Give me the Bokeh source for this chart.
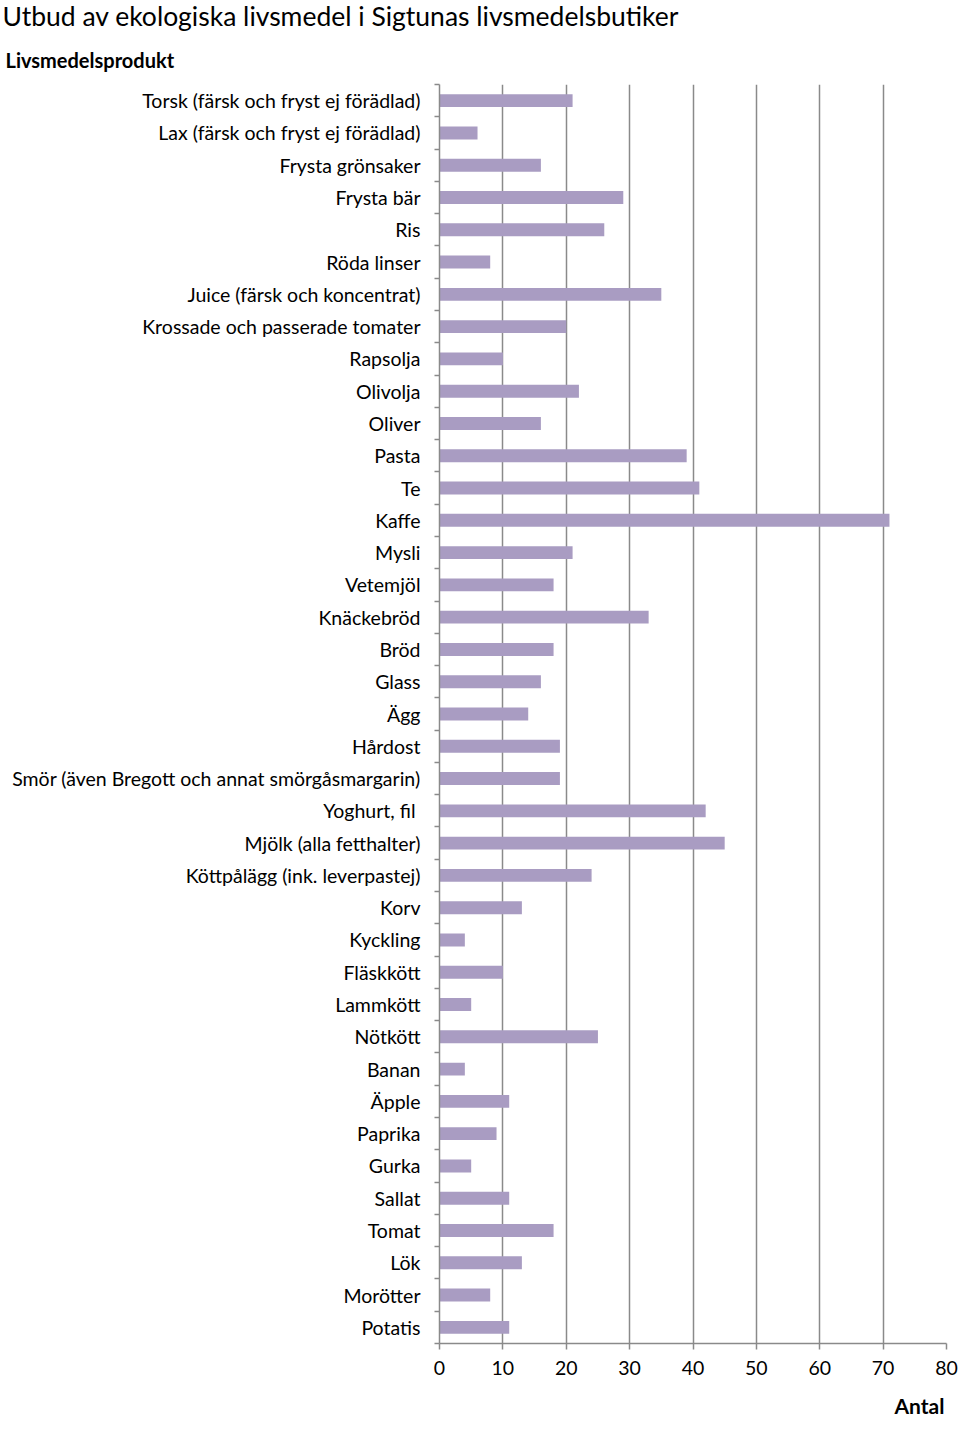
from bokeh.plotting import figure
from bokeh.models import FixedTicker, Range1d, Title
from bokeh.embed import file_html
from bokeh.resources import INLINE

title = "Utbud av ekologiska livsmedel i Sigtunas livsmedelsbutiker"
y_title = "Livsmedelsprodukt"
x_title = "Antal"

products = [
    "Torsk (färsk och fryst ej förädlad)", "Lax (färsk och fryst ej förädlad)", "Frysta grönsaker",
    "Frysta bär", "Ris", "Röda linser", "Juice (färsk och koncentrat)", "Krossade och passerade tomater",
    "Rapsolja", "Olivolja", "Oliver", "Pasta", "Te", "Kaffe", "Mysli", "Vetemjöl", "Knäckebröd",
    "Bröd", "Glass", "Ägg", "Hårdost", "Smör (även Bregott och annat smörgåsmargarin)", "Yoghurt, fil ",
    "Mjölk (alla fetthalter)", "Köttpålägg (ink. leverpastej)", "Korv", "Kyckling", "Fläskkött",
    "Lammkött", "Nötkött", "Banan", "Äpple", "Paprika", "Gurka", "Sallat", "Tomat", "Lök",
    "Morötter", "Potatis",
]
counts = [21, 6, 16, 29, 26, 8, 35, 20, 10, 22, 16, 39, 41, 71, 21, 18, 33, 18, 16, 14, 19, 19,
          42, 45, 24, 13, 4, 10, 5, 25, 4, 11, 9, 5, 11, 18, 13, 8, 11]
x_ticks = [0, 10, 20, 30, 40, 50, 60, 70, 80]

n = len(products)
ypos = [n - 1 - i for i in range(n)]
FONT = "Lato"
GRAY = "#8a8a8a"

p = figure(width=960, height=1434, output_backend="svg", toolbar_location=None,
           x_range=Range1d(0, 80), y_range=Range1d(-0.5, n - 0.5),
           min_border_left=439, min_border_right=14, min_border_top=84, min_border_bottom=91)
p.outline_line_color = None
p.background_fill_color = "white"

p.hbar(y=ypos, right=counts, left=0, height=0.4, fill_color="#A99CC2", line_color=None)

# x axis
p.xaxis.ticker = FixedTicker(ticks=x_ticks)
p.xaxis.axis_line_color = GRAY
p.xaxis.axis_line_width = 1.5
p.xaxis.major_tick_line_color = GRAY
p.xaxis.major_tick_line_width = 1.5
p.xaxis.major_tick_out = 6
p.xaxis.major_tick_in = 0
p.xaxis.minor_tick_line_color = None
p.xaxis.major_label_text_font = FONT
p.xaxis.major_label_text_font_size = "19.5px"
p.xaxis.major_label_text_color = "black"
p.xaxis.major_label_standoff = 11
p.xgrid.ticker = FixedTicker(ticks=x_ticks[1:])
p.xgrid.grid_line_color = GRAY
p.xgrid.grid_line_width = 1.5
p.ygrid.grid_line_color = None

# y axis
p.yaxis.ticker = FixedTicker(ticks=ypos, minor_ticks=[v - 0.5 for v in range(n + 1)])
p.yaxis.major_label_overrides = {y: name for y, name in zip(ypos, products)}
p.yaxis.axis_line_color = GRAY
p.yaxis.axis_line_width = 1.5
p.yaxis.major_tick_line_color = None
p.yaxis.major_tick_out = 0
p.yaxis.major_tick_in = 0
p.yaxis.minor_tick_line_color = GRAY
p.yaxis.minor_tick_line_width = 1.5
p.yaxis.minor_tick_out = 5
p.yaxis.minor_tick_in = 0
p.yaxis.major_label_text_font = FONT
p.yaxis.major_label_text_font_size = "19.5px"
p.yaxis.major_label_text_color = "black"
p.yaxis.major_label_standoff = 14

p.add_layout(Title(text=y_title, align="left", offset=-434, text_font=FONT,
                   text_font_size="20px", text_font_style="bold", text_color="black",
                   standoff=26), "above")
p.add_layout(Title(text=title, align="left", offset=-437, text_font=FONT,
                   text_font_size="26.5px", text_font_style="normal", text_color="black",
                   vertical_align="top", standoff=-2), "above")
p.add_layout(Title(text=x_title, align="right", offset=2, text_font=FONT,
                   text_font_size="21px", text_font_style="bold", text_color="black",
                   standoff=27), "below")

open("out.html", "w").write(file_html(p, INLINE))
